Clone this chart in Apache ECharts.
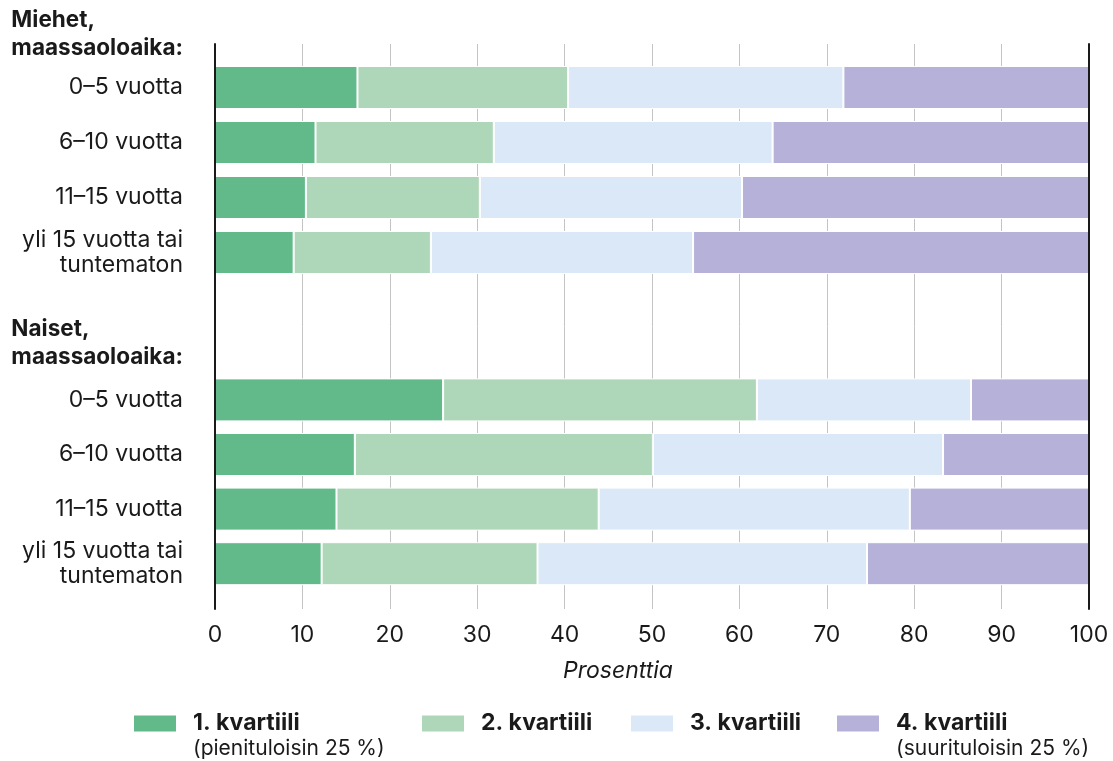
<!DOCTYPE html>
<html><head><meta charset="utf-8">
<script src="https://cdn.jsdelivr.net/npm/echarts@6/dist/echarts.min.js"></script>
<style>html,body{margin:0;padding:0;background:#fff}#c{width:1113px;height:761px}</style>
</head><body><div id="c"></div>
<script>
// ---- data ----
const groupTitles = ['Miehet,\nmaassaoloaika:', 'Naiset,\nmaassaoloaika:'];
const categories = ['0–5 vuotta', '6–10 vuotta', '11–15 vuotta', 'yli 15 vuotta tai\ntuntematon'];
const seriesNames = ['1. kvartiili', '2. kvartiili', '3. kvartiili', '4. kvartiili'];
const legendNotes = ['(pienituloisin 25 %)', '', '', '(suurituloisin 25 %)'];
const axisTitle = 'Prosenttia';
const axisMin = 0, axisMax = 100, axisStep = 10;

const miehetQ1 = [16.3, 11.5, 10.4, 9.0];
const miehetQ2 = [24.1, 20.4, 19.9, 15.7];
const miehetQ3 = [31.5, 31.9, 30.0, 30.0];
const miehetQ4 = [28.1, 36.2, 39.7, 45.3];

const naisetQ1 = [26.1, 16.0, 13.9, 12.2];
const naisetQ2 = [35.9, 34.1, 30.0, 24.7];
const naisetQ3 = [24.5, 33.2, 35.6, 37.7];
const naisetQ4 = [13.5, 16.7, 20.5, 25.4];

const colors = ['#62b989', '#aed6b8', '#dbe8f7', '#b6b1d9'];

// ---- chart ----
const FONT = 'Inter, "Noto Sans", sans-serif';
const TXT = '#1a1a1a';
const chart = echarts.init(document.getElementById('c'), null, {renderer: 'canvas'});

const L = 215, R = 1113 - 1089;
const miehet = [miehetQ1, miehetQ2, miehetQ3, miehetQ4];
const naiset = [naisetQ1, naisetQ2, naisetQ3, naisetQ4];

function barSeries(data, gi, stack) {
  return data.map((d, i) => ({
    type: 'bar', name: seriesNames[i], stack: stack,
    xAxisIndex: gi, yAxisIndex: gi,
    data: d, barWidth: 43,
    itemStyle: {color: colors[i], borderColor: '#ffffff', borderWidth: 1},
    emphasis: {disabled: true}, silent: true
  }));
}

const catAxis = (gi) => ({
  type: 'category', gridIndex: gi, data: categories, inverse: true,
  axisLine: {show: false}, axisTick: {show: false}, splitLine: {show: false},
  axisLabel: {margin: 32, fontFamily: FONT, fontSize: 23, color: TXT, lineHeight: 25, align: 'right', padding: [8, 0, 0, 0]}
});

const legendLefts = [132, 420, 629, 835];
const legends = seriesNames.map((n, i) => ({
  left: legendLefts[i], top: legendNotes[i] ? 686 : 711, padding: 0, orient: 'horizontal',
  itemWidth: 44, itemHeight: 18, icon: 'rect', selectedMode: false,
  data: [n],
  formatter: function (name) {
    const k = seriesNames.indexOf(name);
    if (legendNotes[k]) return '{b| }\n{b|' + name + '}\n{r|' + legendNotes[k] + '}';
    return '{b|' + name + '}';
  },
  textStyle: {
    fontFamily: FONT, color: TXT, lineHeight: 25,
    rich: {
      b: {fontFamily: FONT, fontSize: 23, fontWeight: 'bold', color: TXT, lineHeight: 25, padding: [0, 0, 0, 11]},
      r: {fontFamily: FONT, fontSize: 21, color: TXT, lineHeight: 25, padding: [0, 0, 0, 11]}
    }
  }
}));

const option = {
  animation: false,
  backgroundColor: '#ffffff',
  grid: [
    {left: L, right: R, top: 44, bottom: 761 - 609},
    {left: L, right: R, top: 60, height: 220},
    {left: L, right: R, top: 372.6, height: 218.4}
  ],
  xAxis: [
    {type: 'value', gridIndex: 0, min: axisMin, max: axisMax, interval: axisStep,
     axisLine: {show: false}, axisTick: {show: false},
     splitLine: {show: true, lineStyle: {color: '#c4c4c4', width: 1}},
     axisLabel: {margin: 15, fontFamily: FONT, fontSize: 23, color: TXT},
     name: axisTitle, nameLocation: 'middle', nameGap: 51,
     nameTextStyle: {fontFamily: FONT, fontSize: 23, fontStyle: 'italic', color: TXT, padding: [0, 68, 0, 0]}},
    {type: 'value', gridIndex: 1, min: axisMin, max: axisMax, show: false},
    {type: 'value', gridIndex: 2, min: axisMin, max: axisMax, show: false}
  ],
  yAxis: [
    {type: 'value', gridIndex: 0, position: 'left', z: 10,
     axisLine: {show: true, onZero: false, lineStyle: {color: TXT, width: 2}},
     axisLabel: {show: false}, axisTick: {show: false}, splitLine: {show: false}},
    catAxis(1),
    catAxis(2),
    {type: 'value', gridIndex: 0, position: 'right', z: 10,
     axisLine: {show: true, onZero: false, lineStyle: {color: TXT, width: 2}},
     axisLabel: {show: false}, axisTick: {show: false}, splitLine: {show: false}}
  ],
  legend: legends,
  graphic: [
    {type: 'text', right: 1113 - 183, top: 6, z: 10,
     style: {text: groupTitles[0], fontFamily: FONT, fontSize: 22.5, fontWeight: 'bold', fill: TXT, lineHeight: 28, align: 'right'}},
    {type: 'text', right: 1113 - 183, top: 315, z: 10,
     style: {text: groupTitles[1], fontFamily: FONT, fontSize: 22.5, fontWeight: 'bold', fill: TXT, lineHeight: 28, align: 'right'}}
  ],
  series: [].concat(barSeries(miehet, 1, 'm'), barSeries(naiset, 2, 'n'))
};
chart.setOption(option);
</script>
</body></html>
